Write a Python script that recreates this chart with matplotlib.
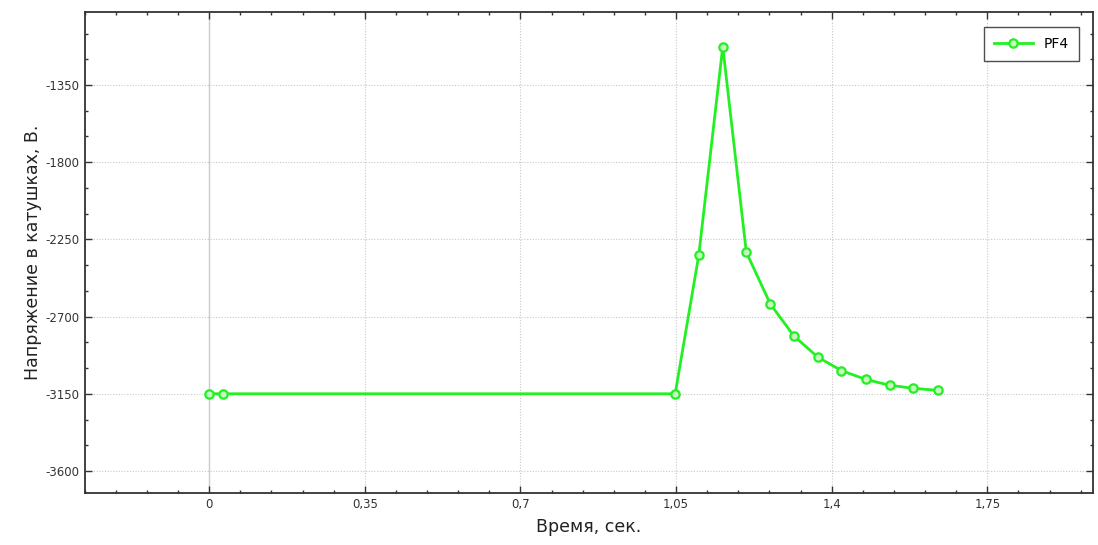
import numpy as np
import matplotlib
matplotlib.use("Agg")
import matplotlib.pyplot as plt
from matplotlib.ticker import MultipleLocator, FuncFormatter

# PF4 coil voltage vs time
time_s = [0.0, 0.03, 1.048, 1.101, 1.155, 1.208, 1.262, 1.315, 1.369, 1.422, 1.476, 1.530, 1.583, 1.638]
volts = [-3150, -3150, -3150, -2343, -1127, -2325, -2627, -2813, -2937, -3015, -3066, -3100, -3118, -3130]
series_name = "PF4"
xlabel = "Время, сек."
ylabel = "Напряжение в катушках, В."

green = "#22f022"

def comma_fmt(val, pos):
    s = "%g" % round(val, 4)
    if s == "-0":
        s = "0"
    return s.replace(".", ",")

fig = plt.figure(figsize=(10.98, 5.45), dpi=100)
ax = fig.add_axes([0.0771, 0.0949, 0.9952 - 0.0771, 0.9785 - 0.0949])

ax.axvline(0, color="#cfcfcf", lw=1.0, zorder=1)
ax.plot(time_s, volts, color=green, lw=2.0, marker="o", markersize=6,
        markerfacecolor="#c8f8c0", markeredgecolor=green, markeredgewidth=1.6,
        label=series_name, zorder=3)

ax.set_xlim(-0.28, 1.987)
ax.set_ylim(-3730, -923)

ax.xaxis.set_major_locator(MultipleLocator(0.35))
ax.xaxis.set_minor_locator(MultipleLocator(0.07))
ax.yaxis.set_major_locator(MultipleLocator(450))
ax.yaxis.set_minor_locator(MultipleLocator(150))
ax.xaxis.set_major_formatter(FuncFormatter(comma_fmt))
ax.yaxis.set_major_formatter(FuncFormatter(comma_fmt))

ax.grid(True, which="major", color="#c8c8c8", lw=0.8, linestyle=(0, (1, 1.5)), zorder=0)
ax.tick_params(which="both", direction="in", top=True, right=True,
               labelsize=8.5, labelcolor="#333333", color="#333333")
ax.tick_params(which="major", length=5, width=1)
ax.tick_params(which="minor", length=2.5, width=1)
for sp in ax.spines.values():
    sp.set_color("#333333")
    sp.set_linewidth(1.3)

ax.set_xlabel(xlabel, fontsize=12.5, color="#222222", labelpad=5)
ax.set_ylabel(ylabel, fontsize=12.5, color="#222222", labelpad=3)

leg = ax.legend(loc="upper right", fontsize=10, frameon=True, fancybox=False,
                borderpad=0.7, handlelength=2.8, bbox_to_anchor=(0.993, 0.982))
leg.get_frame().set_edgecolor("#222222")
leg.get_frame().set_linewidth(1.0)

plt.savefig("out.png", dpi=100)
plt.close()
